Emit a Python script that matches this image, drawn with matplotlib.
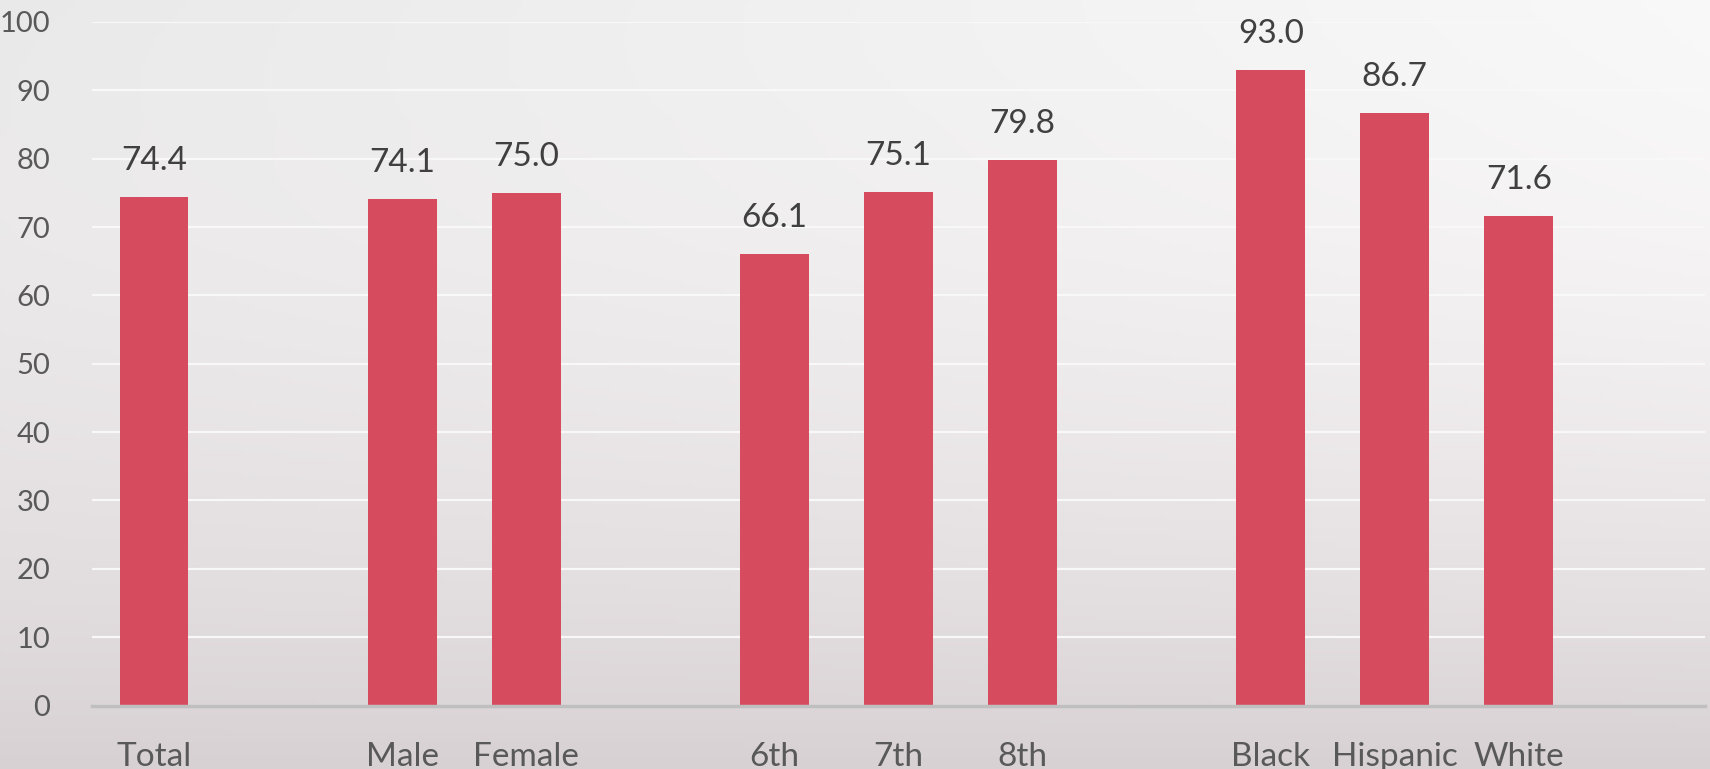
import numpy as np
import matplotlib
matplotlib.use("Agg")
from matplotlib import pyplot as plt

# slot positions leave gaps between the groups
labels = ["Total", "Male", "Female", "6th", "7th", "8th", "Black", "Hispanic", "White"]
slots = [0, 2, 3, 5, 6, 7, 9, 10, 11]
values = [74.4, 74.1, 75.0, 66.1, 75.1, 79.8, 93.0, 86.7, 71.6]
yticks = [0, 10, 20, 30, 40, 50, 60, 70, 80, 90, 100]

plt.rcParams['font.family'] = ['Lato', 'DejaVu Sans']

fig = plt.figure(figsize=(17.1, 7.69), dpi=100)

# soft grey backdrop, lighter near the top right, pinkish grey at the bottom
bg = fig.add_axes([0, 0, 1, 1], zorder=0)
yy, xx = np.mgrid[0:1:200j, 0:1:400j]
light = 0.975 - 0.13 * yy**2 - 0.06 * (1 - xx) * (1 - yy)
rgb = np.dstack([light, light - 0.025 * yy, light - 0.015 * yy])
bg.imshow(np.clip(rgb, 0, 1), aspect="auto", extent=[0, 1, 0, 1])
bg.axis("off")

ax = fig.add_axes([92 / 1710, 63.5 / 769, 1613 / 1710, 683.5 / 769], zorder=1)
ax.patch.set_alpha(0)

bars = ax.bar(slots, values, width=0.555, color="#d64b5d", zorder=3)
for x, v in zip(slots, values):
    ax.annotate(f"{v:.1f}", (x, v), xytext=(0, 15), textcoords="offset points",
                ha="center", va="bottom", fontsize=24, color="#404040")

ax.set_xlim(-0.5, 12.5)
ax.set_ylim(0, 100)
ax.set_yticks(yticks)
ax.set_xticks(slots)
ax.set_xticklabels(labels)
ax.tick_params(axis="y", length=0, pad=30, labelsize=21, labelcolor="#595959")
ax.tick_params(axis="x", length=0, pad=26, labelsize=24, labelcolor="#595959")
ax.yaxis.grid(True, color="#f8f8f8", linewidth=1.6, zorder=1)
for s in ["top", "right", "left"]:
    ax.spines[s].set_visible(False)
ax.spines["bottom"].set_color("#bfbfbf")
ax.spines["bottom"].set_linewidth(2.5)
ax.spines["bottom"].set_zorder(4)

fig.savefig("out.png", dpi=100)
